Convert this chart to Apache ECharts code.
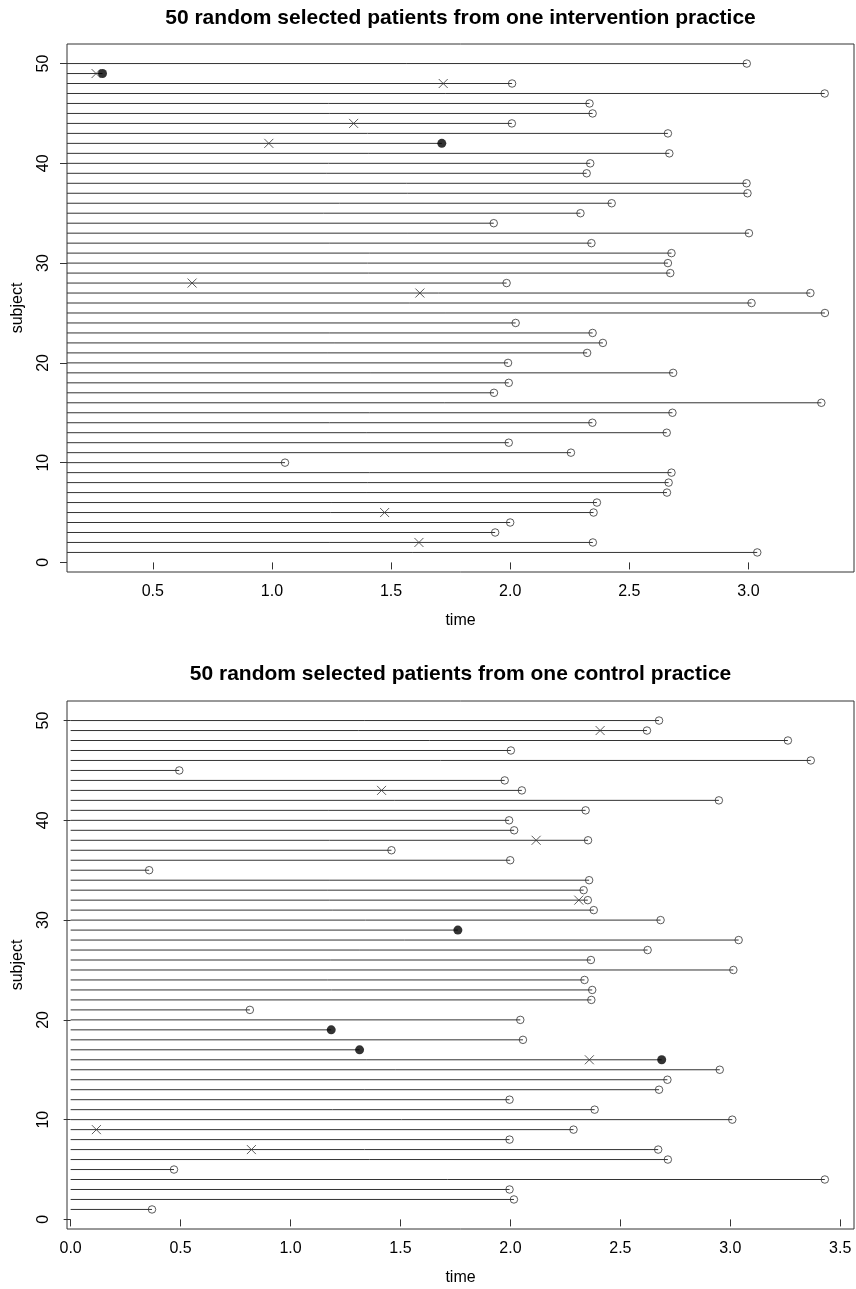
<!DOCTYPE html>
<html><head><meta charset="utf-8">
<script src="https://cdn.jsdelivr.net/npm/echarts@6/dist/echarts.min.js"></script>
<style>html,body{margin:0;padding:0;background:#fff}#c{width:856px;height:1289px}</style>
</head><body><div id="c"></div>
<script>
// subjects 1..50
const subjects = [1,2,3,4,5,6,7,8,9,10,11,12,13,14,15,16,17,18,19,20,21,22,23,24,25,26,27,28,29,30,31,32,33,34,35,36,37,38,39,40,41,42,43,44,45,46,47,48,49,50];

// Intervention practice: end of follow-up per subject
const intEnd = [3.037,2.347,1.937,2.000,2.350,2.364,2.658,2.665,2.677,1.055,
                2.255,1.994,2.657,2.345,2.681,3.306,1.932,1.994,2.684,1.991,
                2.323,2.389,2.346,2.023,3.321,3.013,3.260,1.985,2.672,2.662,
                2.677,2.341,3.002,1.931,2.295,2.426,2.996,2.992,2.321,2.336,
                2.668,1.713,2.662,2.007,2.346,2.333,3.320,2.008,0.289,2.993];
// 1 = ends with event (filled dot), 0 = censored (open circle)
const intStatus = [0,0,0,0,0,0,0,0,0,0, 0,0,0,0,0,0,0,0,0,0, 0,0,0,0,0,0,0,0,0,0,
                   0,0,0,0,0,0,0,0,0,0, 0,1,0,0,0,0,0,0,1,0];
// intermediate events (x marks)
const intXSubj = [49,48,44,42,28,27,5,2];
const intXTime = [0.262,1.719,1.343,0.987,0.665,1.621,1.473,1.617];

// Control practice
const ctlEnd = [0.370,2.016,1.996,3.430,0.470,2.716,2.672,1.996,2.287,3.009,
                2.383,1.996,2.676,2.714,2.952,2.688,1.314,2.057,1.185,2.045,
                0.815,2.368,2.372,2.337,3.014,2.366,2.624,3.038,1.761,2.683,
                2.379,2.352,2.333,2.358,0.357,1.999,1.459,2.353,2.017,1.994,
                2.342,2.948,2.052,1.974,0.494,3.366,2.002,3.262,2.621,2.676];
const ctlStatus = [0,0,0,0,0,0,0,0,0,0, 0,0,0,0,0,1,1,0,1,0, 0,0,0,0,0,0,0,0,1,0,
                   0,0,0,0,0,0,0,0,0,0, 0,0,0,0,0,0,0,0,0,0];
const ctlXSubj = [49,43,38,32,16,9,7];
const ctlXTime = [2.408,1.414,2.117,2.311,2.359,0.117,0.822];

const intTicks = [0.5,1.0,1.5,2.0,2.5,3.0];
const ctlTicks = [0.0,0.5,1.0,1.5,2.0,2.5,3.0,3.5];
const yTicks = [0,10,20,30,40,50];

const titles = ['50 random selected patients from one intervention practice',
                '50 random selected patients from one control practice'];

const INK = '#333';
const FONT = 'Liberation Sans, Arial, sans-serif';

function xAxis(gi, min, max, ticks) {
  return {
    gridIndex: gi, type: 'value', min: min, max: max,
    axisLine: {show: false},
    axisTick: {show: true, inside: false, length: 7, lineStyle: {color: INK, width: 1}, customValues: ticks},
    axisLabel: {customValues: ticks, formatter: v => v.toFixed(1), fontSize: 16, color: '#000', margin: 12, fontFamily: FONT},
    splitLine: {show: false},
    name: 'time', nameLocation: 'middle', nameGap: 41,
    nameTextStyle: {fontSize: 16, color: '#000', fontFamily: FONT}
  };
}
function yAxis(gi) {
  return {
    gridIndex: gi, type: 'value', min: -0.96, max: 51.96,
    axisLine: {show: false},
    axisTick: {show: true, inside: false, length: 7, lineStyle: {color: INK, width: 1}, customValues: yTicks},
    axisLabel: {customValues: yTicks, rotate: 90, fontSize: 16, color: '#000', margin: 15, fontFamily: FONT},
    splitLine: {show: false},
    name: 'subject', nameLocation: 'middle', nameGap: 41,
    nameTextStyle: {fontSize: 16, color: '#000', fontFamily: FONT}
  };
}
function seriesFor(gi, ends, status, xs, xt) {
  const segs = subjects.map((s, i) => [0, ends[i], s]);
  const open = [], filled = [];
  subjects.forEach((s, i) => { (status[i] ? filled : open).push([ends[i], s]); });
  const crosses = xs.map((s, i) => [xt[i], s]);
  return [
    {type: 'custom', xAxisIndex: gi, yAxisIndex: gi, clip: true, silent: true,
     encode: {x: [0, 1], y: 2}, data: segs,
     renderItem: function (params, api) {
       const cs = params.coordSys;
       const p0 = api.coord([api.value(0), api.value(2)]);
       const p1 = api.coord([api.value(1), api.value(2)]);
       const x1 = Math.max(p0[0], cs.x);
       return {type: 'line', shape: {x1: x1, y1: p0[1], x2: p1[0], y2: p1[1]},
               style: {stroke: INK, lineWidth: 1}};
     }},
    {type: 'scatter', xAxisIndex: gi, yAxisIndex: gi, data: open, symbol: 'circle', symbolSize: 7.5,
     itemStyle: {color: 'rgba(0,0,0,0)', borderColor: INK, borderWidth: 1}, silent: true, z: 3},
    {type: 'scatter', xAxisIndex: gi, yAxisIndex: gi, data: filled, symbol: 'circle', symbolSize: 9,
     itemStyle: {color: '#000', borderColor: '#000', borderWidth: 0}, silent: true, z: 4},
    {type: 'scatter', xAxisIndex: gi, yAxisIndex: gi, data: crosses, symbol: 'path://M0,0L10,10M10,0L0,10', symbolSize: 9,
     itemStyle: {color: 'none', borderColor: INK, borderWidth: 1}, silent: true, z: 3}
  ];
}

const chart = echarts.init(document.getElementById('c'), null, {renderer: 'canvas'});
chart.setOption({
  animation: false,
  backgroundColor: '#fff',
  graphic: [
    {type: 'text', x: 460.5, y: 18, style: {text: titles[0], textAlign: 'center', textVerticalAlign: 'middle', font: 'bold 21px ' + FONT, fill: '#000'}},
    {type: 'text', x: 460.5, y: 674, style: {text: titles[1], textAlign: 'center', textVerticalAlign: 'middle', font: 'bold 21px ' + FONT, fill: '#000'}}
  ],
  grid: [
    {left: 67, top: 44, width: 787, height: 528, show: true, borderColor: INK, borderWidth: 1, backgroundColor: 'transparent', containLabel: false},
    {left: 67, top: 701, width: 787, height: 528, show: true, borderColor: INK, borderWidth: 1, backgroundColor: 'transparent', containLabel: false}
  ],
  xAxis: [xAxis(0, 0.14, 3.443, intTicks), xAxis(1, -0.0166, 3.5626, ctlTicks)],
  yAxis: [yAxis(0), yAxis(1)],
  series: [].concat(seriesFor(0, intEnd, intStatus, intXSubj, intXTime),
                    seriesFor(1, ctlEnd, ctlStatus, ctlXSubj, ctlXTime))
});
</script></body></html>
